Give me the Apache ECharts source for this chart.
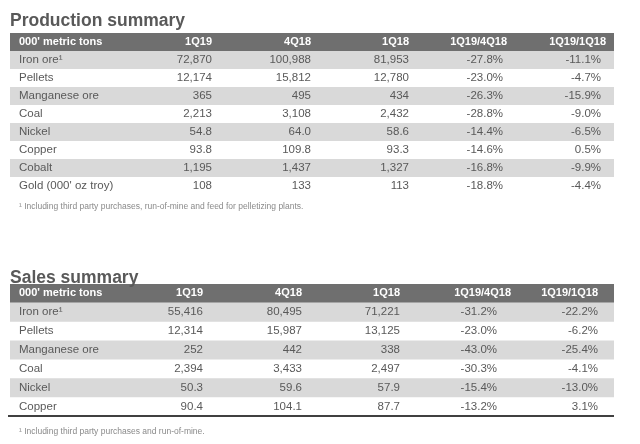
<!DOCTYPE html>
<html><head><meta charset="utf-8">
<script src="https://cdn.jsdelivr.net/npm/echarts@6/dist/echarts.min.js"></script>
<style>html,body{margin:0;padding:0;background:#fff}#c{width:640px;height:444px}</style>
</head><body><div id="c"></div>
<script>
// ---- data ----
const headers = ["000' metric tons", '1Q19', '4Q18', '1Q18', '1Q19/4Q18', '1Q19/1Q18'];

const prodRows = ['Iron ore¹', 'Pellets', 'Manganese ore', 'Coal', 'Nickel', 'Copper', 'Cobalt', "Gold (000' oz troy)"];
const prod1Q19 = [72870, 12174, 365, 2213, 54.8, 93.8, 1195, 108];
const prod4Q18 = [100988, 15812, 495, 3108, 64.0, 109.8, 1437, 133];
const prod1Q18 = [81953, 12780, 434, 2432, 58.6, 93.3, 1327, 113];
const prodVsQ = [-27.8, -23.0, -26.3, -28.8, -14.4, -14.6, -16.8, -18.8];
const prodVsY = [-11.1, -4.7, -15.9, -9.0, -6.5, 0.5, -9.9, -4.4];
const prodDecimals = [0, 0, 0, 0, 1, 1, 0, 0];

const salesRows = ['Iron ore¹', 'Pellets', 'Manganese ore', 'Coal', 'Nickel', 'Copper'];
const sales1Q19 = [55416, 12314, 252, 2394, 50.3, 90.4];
const sales4Q18 = [80495, 15987, 442, 3433, 59.6, 104.1];
const sales1Q18 = [71221, 13125, 338, 2497, 57.9, 87.7];
const salesVsQ = [-31.2, -23.0, -43.0, -30.3, -15.4, -13.2];
const salesVsY = [-22.2, -6.2, -25.4, -4.1, -13.0, 3.1];
const salesDecimals = [0, 0, 0, 0, 1, 1];

const prodTitle = 'Production summary';
const salesTitle = 'Sales summary';
const prodNote = '¹ Including third party purchases, run-of-mine and feed for pelletizing plants.';
const salesNote = '¹ Including third party purchases and run-of-mine.';

// ---- helpers ----
function fmtNum(v, d) {
  return v.toLocaleString('en-US', {minimumFractionDigits: d, maximumFractionDigits: d});
}
function fmtPct(v) { return v.toFixed(1) + '%'; }
function buildTable(rows, a, b, c, q, y, dec) {
  const out = [headers.slice()];
  rows.forEach((r, i) => {
    out.push([r, fmtNum(a[i], dec[i]), fmtNum(b[i], dec[i]), fmtNum(c[i], dec[i]), fmtPct(q[i]), fmtPct(y[i])]);
  });
  return out;
}
const prodTable = buildTable(prodRows, prod1Q19, prod4Q18, prod1Q18, prodVsQ, prodVsY, prodDecimals);
const salesTable = buildTable(salesRows, sales1Q19, sales4Q18, sales1Q18, salesVsQ, salesVsY, salesDecimals);

// layout (x axis units = pixels from grid left)
const prodLayout = {labelX: 9, dataRight: [202, 301, 399, 493, 591], headRight: [202, 301, 399, 497, 596], bottomLine: false};
const salesLayout = {labelX: 9, dataRight: [193, 292, 390, 487, 588], headRight: [193, 292, 390, 501, 588], bottomLine: true};

const FONT = '"Liberation Sans", Arial, sans-serif';
const NARROW = '"Liberation Sans Narrow", "Liberation Sans", sans-serif';
const TXT = '#595959';

function makeRender(table, lay) {
  return function (params, api) {
    const r = api.value(1);
    const cs = params.coordSys;
    const center = api.coord([0, r]);
    const h = api.size([0, 1])[1];
    const top = center[1] - h / 2;
    const isHead = r === 0;
    const kids = [];
    let fill = null;
    if (isHead) fill = '#6f6f6f';
    else if (r % 2 === 1) fill = '#d9d9d9';
    if (fill) {
      kids.push({type: 'rect', shape: {x: cs.x, y: top, width: cs.width, height: h}, style: {fill: fill}});
    }
    const row = table[r];
    const font = isHead ? 'bold 11px ' + FONT : '11.5px ' + FONT;
    const col = isHead ? '#ffffff' : TXT;
    kids.push({type: 'text', style: {text: row[0], x: api.coord([lay.labelX, r])[0], y: center[1],
      textAlign: 'left', align: 'left', textVerticalAlign: 'middle', verticalAlign: 'middle', font: font, fill: col}});
    const anchors = isHead ? lay.headRight : lay.dataRight;
    for (let k = 1; k < row.length; k++) {
      kids.push({type: 'text', style: {text: row[k], x: api.coord([anchors[k - 1], r])[0], y: center[1],
        textAlign: 'right', align: 'right', textVerticalAlign: 'middle', verticalAlign: 'middle', font: font, fill: col}});
    }
    if (lay.bottomLine && r === table.length - 1) {
      kids.push({type: 'line', shape: {x1: cs.x - 2, y1: top + h, x2: cs.x + cs.width, y2: top + h},
        style: {stroke: '#404040', lineWidth: 2}});
    }
    return {type: 'group', children: kids};
  };
}

const chart = echarts.init(document.getElementById('c'), null, {renderer: 'canvas'});
function axisPair(idx, table) {
  return {
    x: {type: 'value', gridIndex: idx, min: 0, max: 604, show: false},
    y: {type: 'category', gridIndex: idx, inverse: true, show: false, data: table.map((r, i) => String(i))}
  };
}
const a0 = axisPair(0, prodTable), a1 = axisPair(1, salesTable);
chart.setOption({
  animation: false,
  title: [
    {text: prodTitle, left: 10, top: 12, padding: 0, textStyle: {fontFamily: FONT, fontSize: 17.5, fontWeight: 'bold', color: '#595959'}},
    {text: salesTitle, left: 10, top: 269, padding: 0, textStyle: {fontFamily: FONT, fontSize: 17.5, fontWeight: 'bold', color: '#595959'}},
    {text: prodNote, left: 19, top: 202, padding: 0, textStyle: {fontFamily: NARROW, fontSize: 8.5, fontWeight: 'normal', color: '#8a8a8a'}},
    {text: salesNote, left: 19, top: 427, padding: 0, textStyle: {fontFamily: NARROW, fontSize: 8.5, fontWeight: 'normal', color: '#8a8a8a'}}
  ],
  grid: [
    {left: 10, top: 33, width: 604, height: 162},
    {left: 10, top: 284, width: 604, height: 132}
  ],
  xAxis: [a0.x, a1.x],
  yAxis: [a0.y, a1.y],
  series: [
    {type: 'custom', xAxisIndex: 0, yAxisIndex: 0, renderItem: makeRender(prodTable, prodLayout),
      data: prodTable.map((r, i) => [0, i]), silent: true},
    {type: 'custom', xAxisIndex: 1, yAxisIndex: 1, renderItem: makeRender(salesTable, salesLayout),
      data: salesTable.map((r, i) => [0, i]), silent: true}
  ]
});
</script></body></html>
